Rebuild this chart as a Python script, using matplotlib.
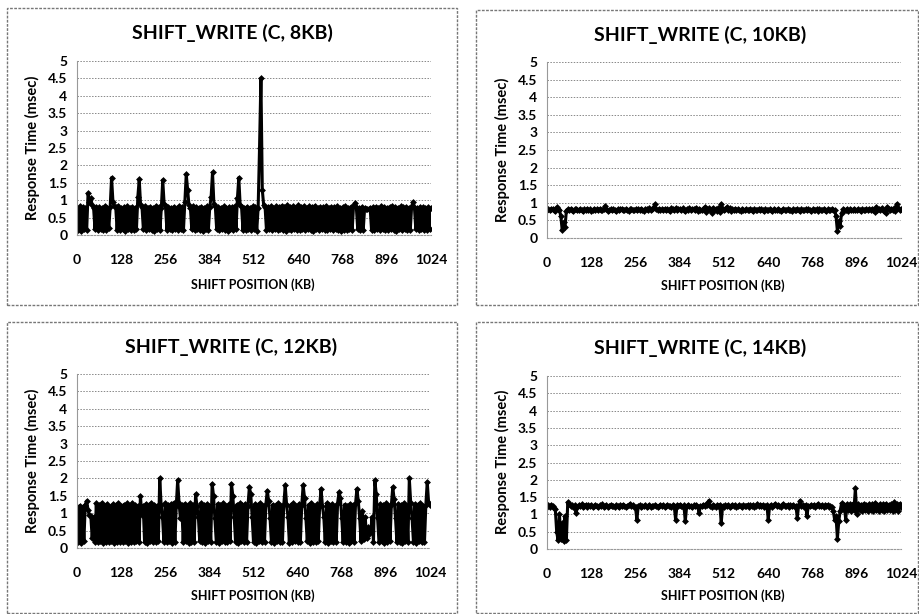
import numpy as np
import matplotlib.pyplot as plt
from matplotlib.patches import Rectangle

# shift positions (KB), one sample every 4 KB
shift_pos = np.arange(0, 1028, 4)
x_ticks = [0, 128, 256, 384, 512, 640, 768, 896, 1024]
y_ticks = [0, 0.5, 1, 1.5, 2, 2.5, 3, 3.5, 4, 4.5, 5]
y_tick_labels = ["0", "0.5", "1", "1.5", "2", "2.5", "3", "3.5", "4", "4.5", "5"]

titles = ["SHIFT_WRITE (C, 8KB)", "SHIFT_WRITE (C, 10KB)",
          "SHIFT_WRITE (C, 12KB)", "SHIFT_WRITE (C, 14KB)"]

resp_8kb = [
    0.78, 0.15, 0.82, 0.12, 0.80, 0.18, 0.79, 0.14, 1.20, 0.95, 1.05, 0.85, 0.78, 0.16, 0.81, 0.13,
    0.80, 0.17, 0.77, 0.14, 0.83, 0.15, 0.79, 0.19, 0.81, 1.65, 0.95, 0.82, 0.80, 0.15, 0.84, 0.13,
    0.78, 0.16, 0.80, 0.12, 0.82, 0.18, 0.79, 0.15, 0.81, 0.14, 0.77, 0.17, 1.10, 1.60, 0.85, 0.80,
    0.16, 0.82, 0.13, 0.79, 0.18, 0.81, 0.15, 0.78, 0.12, 0.83, 0.16, 0.80, 0.14, 0.79, 1.58, 0.90,
    0.82, 0.15, 0.80, 0.17, 0.78, 0.13, 0.81, 0.16, 0.79, 0.14, 0.83, 0.18, 0.80, 0.15, 0.95, 1.75,
    1.30, 0.85, 0.79, 0.16, 0.82, 0.13, 0.80, 0.17, 0.78, 0.15, 0.81, 0.12, 0.79, 0.18, 0.83, 0.14,
    0.80, 1.10, 1.80, 0.90, 0.84, 0.16, 0.80, 0.13, 0.78, 0.17, 0.82, 0.15, 0.79, 0.12, 0.81, 0.18,
    0.80, 0.14, 0.83, 0.16, 1.05, 1.65, 0.85, 0.80, 0.15, 0.79, 0.13, 0.81, 0.17, 0.78, 0.14, 0.82,
    0.16, 0.80, 0.12, 0.79, 2.50, 4.50, 1.30, 0.85, 0.81, 0.15, 0.80, 0.18, 0.82, 0.14, 0.79, 0.16,
    0.83, 0.13, 0.80, 0.17, 0.84, 0.15, 0.81, 0.12, 0.86, 0.16, 0.80, 0.14, 0.82, 0.18, 0.79, 0.15,
    0.85, 0.13, 0.80, 0.16, 0.83, 0.14, 0.78, 0.17, 0.82, 0.15, 0.80, 0.12, 0.84, 0.16, 0.79, 0.14,
    0.81, 0.18, 0.80, 0.15, 0.83, 0.13, 0.78, 0.16, 0.81, 0.14, 0.80, 0.17, 0.82, 0.15, 0.79, 0.12,
    0.80, 0.15, 0.82, 0.13, 0.79, 0.17, 0.81, 0.14, 0.85, 0.92, 0.80, 0.16, 0.78, 0.14, 0.80, 0.15,
    0.77, 0.76, 0.75, 0.76, 0.78, 0.15, 0.80, 0.13, 0.81, 0.17, 0.79, 0.14, 0.82, 0.16, 0.80, 0.15,
    0.78, 0.13, 0.81, 0.17, 0.83, 0.15, 0.80, 0.12, 0.79, 0.16, 0.82, 0.14, 0.80, 0.18, 0.81, 0.15,
    0.79, 0.13, 0.82, 0.95, 0.80, 0.16, 0.78, 0.14, 0.81, 0.17, 0.80, 0.15, 0.79, 0.13, 0.80, 0.16,
    0.78,
]

resp_10kb = [
    0.80, 0.82, 0.79, 0.81, 0.83, 0.80, 0.78, 0.87, 0.81, 0.79, 0.62, 0.22, 0.45, 0.30, 0.77, 0.81,
    0.79, 0.82, 0.80, 0.78, 0.81, 0.83, 0.80, 0.79, 0.82, 0.80, 0.78, 0.81, 0.79, 0.83, 0.80, 0.81,
    0.78, 0.80, 0.82, 0.79, 0.81, 0.80, 0.83, 0.79, 0.80, 0.82, 0.91, 0.81, 0.78, 0.80, 0.82, 0.79,
    0.81, 0.80, 0.78, 0.82, 0.79, 0.81, 0.83, 0.80, 0.79, 0.82, 0.80, 0.78, 0.81, 0.83, 0.80, 0.79,
    0.82, 0.80, 0.81, 0.79, 0.83, 0.80, 0.78, 0.82, 0.81, 0.79, 0.84, 0.80, 0.82, 0.86, 0.96, 0.81,
    0.80, 0.82, 0.79, 0.81, 0.80, 0.83, 0.79, 0.82, 0.80, 0.78, 0.84, 0.81, 0.79, 0.85, 0.80, 0.82,
    0.81, 0.79, 0.84, 0.80, 0.78, 0.82, 0.80, 0.85, 0.79, 0.81, 0.83, 0.80, 0.86, 0.78, 0.82, 0.80,
    0.79, 0.83, 0.88, 0.74, 0.81, 0.84, 0.80, 0.72, 0.86, 0.80, 0.82, 0.78, 0.85, 0.73, 0.97, 0.81,
    0.79, 0.82, 0.88, 0.80, 0.84, 0.78, 0.81, 0.80, 0.82, 0.79, 0.81, 0.80, 0.78, 0.82, 0.80, 0.79,
    0.81, 0.80, 0.79, 0.82, 0.80, 0.78, 0.81, 0.79, 0.80, 0.82, 0.79, 0.81, 0.80, 0.78, 0.81, 0.80,
    0.79, 0.81, 0.80, 0.78, 0.82, 0.80, 0.79, 0.81, 0.80, 0.78, 0.80, 0.82, 0.79, 0.80, 0.81, 0.79,
    0.80, 0.78, 0.81, 0.80, 0.79, 0.82, 0.80, 0.78, 0.81, 0.79, 0.80, 0.82, 0.79, 0.81, 0.80, 0.78,
    0.81, 0.79, 0.80, 0.82, 0.78, 0.81, 0.80, 0.79, 0.82, 0.80, 0.78, 0.81, 0.79, 0.80, 0.82, 0.79,
    0.80, 0.62, 0.20, 0.48, 0.35, 0.70, 0.81, 0.79, 0.80, 0.82, 0.78, 0.81, 0.80, 0.79, 0.82, 0.80,
    0.79, 0.81, 0.80, 0.78, 0.82, 0.80, 0.79, 0.81, 0.80, 0.83, 0.79, 0.81, 0.80, 0.74, 0.88, 0.80,
    0.82, 0.79, 0.85, 0.80, 0.78, 0.72, 0.88, 0.81, 0.79, 0.83, 0.80, 0.84, 0.78, 0.97, 0.86, 0.80,
    0.82,
]

resp_12kb = [
    1.15, 0.18, 1.22, 0.15, 1.18, 0.20, 1.25, 1.35, 1.10, 0.95, 0.92, 0.30, 0.88, 0.17, 1.28, 0.16,
    1.24, 0.19, 1.30, 0.15, 1.21, 0.18, 1.27, 0.16, 1.19, 0.20, 1.26, 0.15, 1.23, 0.18, 1.29, 0.17,
    1.20, 0.16, 1.25, 0.19, 1.28, 0.15, 1.22, 0.18, 1.30, 0.17, 1.24, 0.20, 1.21, 0.16, 1.50, 0.95,
    1.22, 0.17, 1.27, 0.15, 1.24, 0.19, 1.30, 0.16, 1.25, 0.18, 1.21, 0.20, 2.00, 1.25, 0.90, 0.17,
    1.28, 0.16, 1.23, 0.19, 1.26, 0.15, 1.30, 0.18, 1.22, 1.95, 1.30, 0.85, 1.24, 0.17, 1.27, 0.20,
    1.21, 0.15, 1.29, 0.18, 1.25, 0.16, 1.55, 1.20, 0.90, 0.19, 1.28, 0.17, 1.23, 0.15, 1.26, 0.20,
    1.22, 0.16, 1.85, 1.50, 0.85, 0.18, 1.27, 0.15, 1.24, 0.19, 1.30, 0.17, 1.21, 0.16, 1.26, 0.20,
    1.85, 1.50, 0.88, 0.17, 1.25, 0.15, 1.28, 0.19, 1.23, 0.16, 1.27, 0.18, 1.22, 1.75, 1.55, 0.90,
    0.17, 1.26, 0.15, 1.24, 0.20, 1.29, 0.16, 1.21, 0.18, 1.27, 1.65, 1.35, 0.85, 0.17, 1.25, 0.15,
    1.23, 0.19, 1.28, 0.16, 1.22, 0.18, 1.26, 1.80, 1.25, 0.90, 0.15, 1.24, 0.17, 1.29, 0.20, 1.21,
    0.16, 1.27, 0.18, 1.23, 1.80, 1.45, 0.85, 0.19, 1.25, 0.15, 1.30, 0.17, 1.22, 0.16, 1.26, 0.20,
    1.24, 1.70, 1.20, 0.88, 0.17, 1.28, 0.15, 1.23, 0.19, 1.26, 0.16, 1.21, 0.18, 1.29, 1.60, 1.45,
    0.85, 0.16, 1.25, 0.18, 1.22, 0.15, 1.27, 0.20, 1.24, 0.17, 1.28, 1.70, 1.35, 0.85, 0.20, 1.05,
    0.25, 0.90, 0.30, 0.60, 0.40, 0.50, 0.88, 0.18, 1.95, 1.55, 0.85, 0.16, 1.26, 0.19, 1.23, 0.15,
    1.28, 0.17, 1.22, 0.20, 1.25, 1.75, 1.40, 0.85, 0.16, 1.27, 0.18, 1.24, 0.15, 1.29, 0.19, 1.21,
    0.16, 2.00, 1.30, 0.85, 0.17, 1.26, 0.15, 1.23, 0.19, 1.28, 0.16, 1.22, 0.18, 1.25, 1.90, 1.30,
    1.25,
]

resp_14kb = [
    1.22, 1.26, 1.20, 1.28, 1.24, 1.19, 1.15, 0.50, 0.25, 1.00, 0.30, 0.75, 0.22, 0.95, 0.25, 1.35,
    1.30, 1.24, 1.28, 1.21, 1.26, 1.05, 1.20, 1.27, 1.23, 1.29, 1.22, 1.25, 1.28, 1.21, 1.26, 1.24,
    1.27, 1.22, 1.25, 1.28, 1.23, 1.20, 1.26, 1.24, 1.29, 1.22, 1.25, 1.27, 1.21, 1.24, 1.28, 1.23,
    1.25, 1.22, 1.27, 1.24, 1.20, 1.26, 1.23, 1.28, 1.25, 1.21, 1.24, 1.27, 1.30, 1.23, 1.26, 1.22,
    1.20, 0.85, 1.24, 1.27, 1.22, 1.25, 1.23, 1.26, 1.21, 1.24, 1.27, 1.22, 1.25, 1.23, 1.26, 1.24,
    1.22, 1.25, 1.27, 1.23, 1.26, 1.21, 1.24, 1.28, 1.23, 1.25, 1.22, 1.27, 1.24, 0.85, 1.26, 1.23,
    1.28, 1.25, 1.22, 1.26, 0.80, 1.24, 1.27, 1.23, 1.25, 1.21, 1.26, 1.24, 1.28, 1.22, 1.05, 1.25,
    1.23, 1.27, 1.24, 1.30, 1.26, 1.40, 1.25, 1.22, 1.27, 1.24, 1.21, 1.26, 1.23, 1.28, 0.75, 1.25,
    1.22, 1.27, 1.24, 1.26, 1.21, 1.25, 1.28, 1.23, 1.26, 1.22, 1.25, 1.27, 1.24, 1.21, 1.26, 1.23,
    1.25, 1.28, 1.22, 1.26, 1.24, 1.27, 1.21, 1.25, 1.30, 1.23, 1.26, 1.24, 1.28, 1.22, 1.25, 1.27,
    0.85, 1.24, 1.28, 1.22, 1.26, 1.30, 1.23, 1.27, 1.24, 1.21, 1.26, 1.29, 1.23, 1.25, 1.28, 1.22,
    1.26, 1.24, 1.28, 1.21, 1.25, 0.90, 1.27, 1.40, 1.23, 1.26, 1.22, 1.28, 0.95, 1.25, 1.23, 1.27,
    1.24, 1.28, 1.22, 1.26, 1.30, 1.23, 1.25, 1.27, 1.21, 1.26, 1.24, 1.28, 1.22, 1.25, 1.20, 1.10,
    0.85, 0.95, 0.30, 0.80, 1.10, 1.32, 1.15, 1.28, 0.85, 1.30, 1.12, 1.29, 1.10, 1.31, 1.14, 1.75,
    1.00, 1.30, 1.12, 1.28, 1.10, 1.31, 1.13, 1.27, 1.11, 1.30, 1.14, 1.29, 1.10, 1.32, 1.12, 1.28,
    1.11, 1.30, 1.13, 1.29, 1.10, 1.31, 1.12, 1.28, 1.14, 1.30, 1.11, 1.35, 1.12, 1.29, 1.10, 1.31,
    1.20,
]

series = [resp_8kb, resp_10kb, resp_12kb, resp_14kb]

W, H = 919, 614
FONT = "Lato"
fig = plt.figure(figsize=(W / 100, H / 100), dpi=100)


def px(x, y):
    # pixel (from top-left) -> figure fraction
    return x / W, 1 - y / H


# panel frames: (left, top, right, bottom) in pixels
frames = [(7, 8, 457, 305), (476, 10, 918, 305), (7, 322, 457, 613), (476, 322, 918, 613)]
# plot areas: (left, top, right, bottom) in pixels
areas = [(77, 61, 431, 235), (547, 62, 901, 238), (77, 374, 430, 548), (547, 376, 901, 549)]
title_pos = [(232, 33), (700, 35), (231, 347), (700, 348)]
ylab_pos = [(32, 148), (502, 150), (32, 461), (502, 462)]
xlab_pos = [(253, 285), (723, 286), (253, 596), (723, 596)]

for k in range(4):
    l, t, r, b = frames[k]
    fig.patches.append(Rectangle(px(l, b), (r - l) / W, (b - t) / H, transform=fig.transFigure,
                                 fill=False, edgecolor="#777777", linewidth=1.0,
                                 linestyle=(0, (2, 1))))

    l, t, r, b = areas[k]
    ax = fig.add_axes([l / W, 1 - b / H, (r - l) / W, (b - t) / H])
    ax.plot(shift_pos, series[k], color="black", linewidth=2.2,
            marker="D", markersize=3.5, markeredgewidth=0)
    ax.set_xlim(0, 1024)
    ax.set_ylim(0, 5)
    ax.set_xticks(x_ticks)
    ax.set_xticklabels([str(v) for v in x_ticks], fontfamily=FONT, fontweight="bold", fontsize=10)
    ax.set_yticks(y_ticks)
    ax.set_yticklabels(y_tick_labels, fontfamily=FONT, fontweight="bold", fontsize=10)
    ax.tick_params(axis="x", length=0, pad=14)
    ax.tick_params(axis="y", length=0, pad=7)
    ax.yaxis.grid(True, color="#888888", linewidth=0.7, linestyle=(0, (1.5, 1.5)))
    ax.set_axisbelow(True)
    for s in ["top", "right"]:
        ax.spines[s].set_visible(False)
    ax.spines["left"].set_color("#999999")
    ax.spines["left"].set_linewidth(0.8)
    ax.spines["bottom"].set_color("#999999")
    ax.spines["bottom"].set_linewidth(0.8)
    ax.spines["bottom"].set_linestyle((0, (1.5, 1.5)))

    tx, ty = px(*title_pos[k])
    fig.text(tx, ty, titles[k], ha="center", va="center", fontfamily=FONT,
             fontweight="bold", fontsize=14)
    yx, yy = px(*ylab_pos[k])
    fig.text(yx, yy, "Response Time (msec)", ha="center", va="center", rotation=90,
             fontfamily=FONT, fontweight="bold", fontsize=10.5)
    xx, xy = px(*xlab_pos[k])
    fig.text(xx, xy, "SHIFT POSITION (KB)", ha="center", va="center", fontfamily=FONT,
             fontweight="bold", fontsize=9)

fig.savefig("out.png", dpi=100)
